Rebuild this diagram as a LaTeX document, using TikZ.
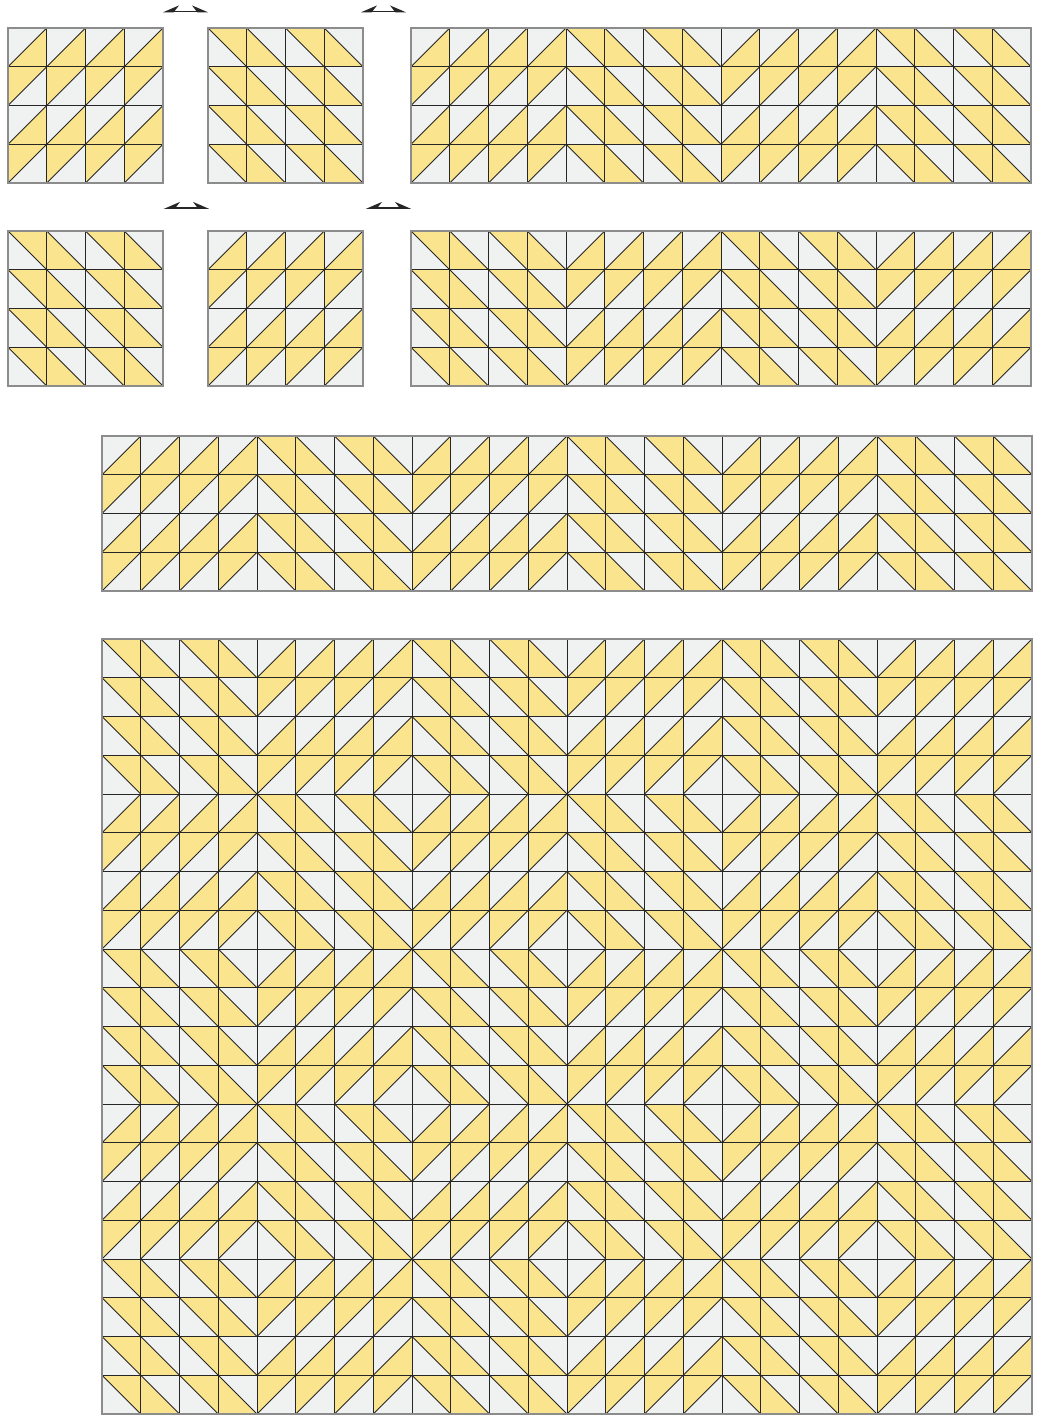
\documentclass[tikz,border=0pt]{standalone}
\usepackage{tikz}
\usetikzlibrary{arrows.meta}
\definecolor{tileyellow}{RGB}{251,228,142}
\definecolor{tilegrey}{RGB}{239,242,240}
\definecolor{tileline}{RGB}{38,38,38}

\begin{document}
\begin{tikzpicture}[x=0.5pt, y=-0.5pt,
    tileedge/.style={draw=tileline, line width=0.45pt, line join=round},
    blockframe/.style={draw=gray!90, line width=0.7pt},
    swaparrow/.style={draw=tileline, line width=0.8pt,
        {Stealth[harpoon,swap,length=7pt,width=6pt]}-{Stealth[harpoon,length=7pt,width=6pt]}}]
    \useasboundingbox (0,0) rectangle (1050,1416);
    \def\cw{38.75}

    % Blocks: left/top corner, columns, rows, which block type comes first
    \foreach \bx/\by/\nc/\nr/\off in {8/28/4/4/0, 208/28/4/4/1, 411/28/16/4/0,
                                      8/231/4/4/1, 208/231/4/4/0, 411/231/16/4/1,
                                      102/436/24/4/0, 102/639/24/20/1} {
        \foreach \c in {1,...,\nc} {
            \foreach \r in {1,...,\nr} {
                \pgfmathtruncatemacro{\kind}{mod(div(\c-1,4)+div(\r-1,4)+\off,2)}
                \pgfmathsetmacro{\x}{\bx+(\c-1)*\cw}
                \pgfmathsetmacro{\y}{\by+(\r-1)*\cw}
                \begin{scope}[shift={(\x,\y)}]
                    \fill[tilegrey] (0,0) rectangle (\cw,\cw);
                    \ifnum\kind=0\relax
                        % rising diagonal, yellow alternates by row
                        \ifodd\r\relax
                            \fill[tileyellow] (0,\cw) -- (\cw,\cw) -- (\cw,0) -- cycle;
                        \else
                            \fill[tileyellow] (0,0) -- (\cw,0) -- (0,\cw) -- cycle;
                        \fi
                        \draw[tileedge] (0,\cw) -- (\cw,0);
                    \else
                        % falling diagonal, yellow alternates by column
                        \ifodd\c\relax
                            \fill[tileyellow] (0,0) -- (\cw,0) -- (\cw,\cw) -- cycle;
                        \else
                            \fill[tileyellow] (0,0) -- (0,\cw) -- (\cw,\cw) -- cycle;
                        \fi
                        \draw[tileedge] (0,0) -- (\cw,\cw);
                    \fi
                    \draw[tileedge] (0,0) rectangle (\cw,\cw);
                \end{scope}
            }
        }
        \draw[blockframe] (\bx,\by) rectangle ++(\nc*\cw,\nr*\cw);
    }

    % Exchange arrows between the blocks
    \coordinate (swapAl) at (163,11.5);
    \coordinate (swapAr) at (208,11.5);
    \coordinate (swapBl) at (361,11.5);
    \coordinate (swapBr) at (406,11.5);
    \coordinate (swapCl) at (164,208);
    \coordinate (swapCr) at (209,208);
    \coordinate (swapDl) at (366,208);
    \coordinate (swapDr) at (411,208);
    \draw[swaparrow] (swapAl) -- (swapAr);
    \draw[swaparrow] (swapBl) -- (swapBr);
    \draw[swaparrow] (swapCl) -- (swapCr);
    \draw[swaparrow] (swapDl) -- (swapDr);
\end{tikzpicture}
\end{document}
